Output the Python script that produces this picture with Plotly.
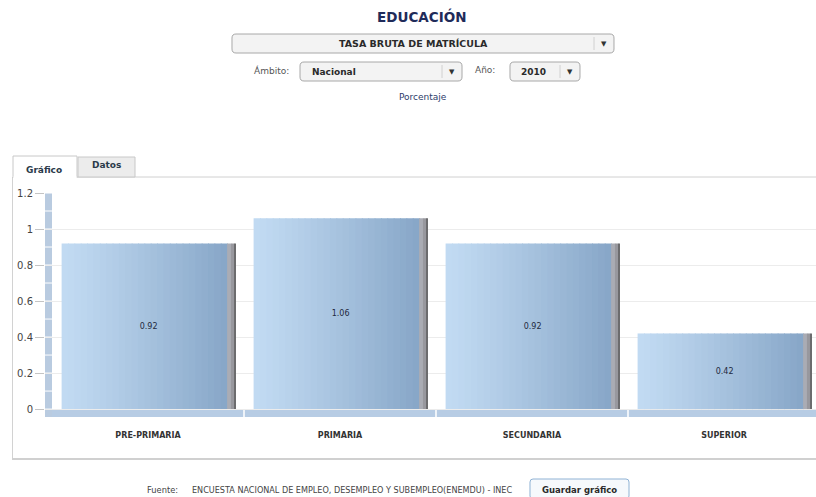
import plotly.graph_objects as go

# ---------------- data ----------------
categories = ["PRE-PRIMARIA", "PRIMARIA", "SECUNDARIA", "SUPERIOR"]
values = [0.92, 1.06, 0.92, 0.42]
y_ticks = [0, 0.2, 0.4, 0.6, 0.8, 1.0, 1.2]
y_tick_labels = ["0", "0.2", "0.4", "0.6", "0.8", "1", "1.2"]

# ---------------- geometry (pixels) ----------------
W, H = 816, 497
L, R, T, B = 45, 816, 193, 417
FONT = "DejaVu Sans"


def px(x):
    return (x - L) / (R - L)


def py(y):
    return (B - y) / (B - T)


def rrect(x0, y0, x1, y1, r):
    p = lambda x, y: f"{px(x):.5f},{py(y):.5f}"
    return (f"M {p(x0 + r, y0)} L {p(x1 - r, y0)} Q {p(x1, y0)} {p(x1, y0 + r)} "
            f"L {p(x1, y1 - r)} Q {p(x1, y1)} {p(x1 - r, y1)} L {p(x0 + r, y1)} "
            f"Q {p(x0, y1)} {p(x0, y1 - r)} L {p(x0, y0 + r)} Q {p(x0, y0)} {p(x0 + r, y0)} Z")


fig = go.Figure()

# ---------------- gradient bars (sliced) ----------------
bar_left = -0.45
blue_w = 0.862
N = 26
c0 = (193, 218, 242)
c1 = (136, 167, 200)
sw = blue_w / N
for i in range(N):
    t = i / (N - 1)
    t = t ** 1.15
    col = tuple(int(round(c0[k] + (c1[k] - c0[k]) * t)) for k in range(3))
    fig.add_trace(go.Bar(
        x=categories, y=values, width=sw * 1.15, offset=bar_left + i * sw,
        marker=dict(color=f"rgb{col}", line=dict(width=0)),
        hoverinfo="skip", showlegend=False))
# grey right edge
edge = [(bar_left + blue_w, 0.02, "rgb(170,172,180)"),
        (bar_left + blue_w + 0.02, 0.016, "rgb(152,152,158)"),
        (bar_left + blue_w + 0.036, 0.009, "rgb(108,108,110)")]
for off, w, col in edge:
    fig.add_trace(go.Bar(
        x=categories, y=values, width=w * 1.1, offset=off,
        marker=dict(color=col, line=dict(width=0)),
        hoverinfo="skip", showlegend=False))

# value labels
fig.add_trace(go.Bar(
    x=categories, y=values, width=0.906, offset=bar_left,
    marker=dict(color="rgba(0,0,0,0)", line=dict(width=0)),
    texttemplate="%{y:.2f}", textposition="inside", insidetextanchor="middle",
    textfont=dict(family=FONT, size=8, color="#1f2a40"),
    constraintext="none", hoverinfo="skip", showlegend=False))

shapes = []
# wall on left
shapes.append(dict(type="rect", xref="x", yref="y", x0=-0.5365, x1=-0.5, y0=-0.044, y1=1.2,
                   fillcolor="#b9cbe0", line=dict(width=0), layer="below"))
k = 0
while k <= 12:
    v = k / 10
    shapes.append(dict(type="line", xref="x", yref="y", x0=-0.5365, x1=-0.5, y0=v, y1=v,
                       line=dict(color="white", width=1), layer="below"))
    k += 1
# floor per category
for i in range(len(categories)):
    x0 = i - 0.5 + (0.004 if i > 0 else 0)
    x1 = i + 0.5 - 0.004
    shapes.append(dict(type="rect", xref="x", yref="y", x0=x0, x1=x1, y0=-0.044, y1=0,
                       fillcolor="#b7cce4", line=dict(width=0), layer="below"))

# panel frame and tabs
shapes.append(dict(type="line", xref="paper", yref="paper", x0=px(12.5), x1=px(12.5), y0=py(177), y1=py(459),
                   line=dict(color="#d2d2d2", width=1)))
shapes.append(dict(type="line", xref="paper", yref="paper", x0=px(12), x1=px(816), y0=py(459), y1=py(459),
                   line=dict(color="#d0d0d0", width=2)))
shapes.append(dict(type="line", xref="paper", yref="paper", x0=px(77), x1=px(816), y0=py(177), y1=py(177),
                   line=dict(color="#d0d0d0", width=1)))
shapes.append(dict(type="path", xref="paper", yref="paper",
                   path=f"M {px(78)},{py(177)} L {px(78)},{py(157)} L {px(135)},{py(157)} L {px(135)},{py(177)} Z",
                   fillcolor="#ececec", line=dict(color="#c8c8c8", width=1)))
shapes.append(dict(type="path", xref="paper", yref="paper",
                   path=f"M {px(13)},{py(178)} L {px(13)},{py(156)} L {px(77)},{py(156)} L {px(77)},{py(178)}",
                   fillcolor="white", line=dict(color="#c8c8c8", width=1)))
shapes.append(dict(type="line", xref="paper", yref="paper", x0=px(13.5), x1=px(76.5), y0=py(177.5), y1=py(177.5),
                   line=dict(color="white", width=2)))

# dropdown boxes
boxes = [(232, 34, 614, 53, 594), (300, 62, 462, 81, 442), (510, 62, 580, 81, 560)]
for x0, y0, x1, y1, xd in boxes:
    shapes.append(dict(type="path", xref="paper", yref="paper", path=rrect(x0, y0, x1, y1, 4),
                       fillcolor="#f3f3f3", line=dict(color="#a8a8a8", width=1)))
    shapes.append(dict(type="line", xref="paper", yref="paper", x0=px(xd), x1=px(xd), y0=py(y0 + 3), y1=py(y1 - 3),
                       line=dict(color="#d0d0d0", width=1)))
# save button
shapes.append(dict(type="path", xref="paper", yref="paper", path=rrect(530, 479, 629, 499, 3),
                   fillcolor="#f6f9fc", line=dict(color="#8fb2d4", width=1)))

annotations = []


def txt(x, y, s, size=9, color="#444444", anchor="center", bold=False):
    annotations.append(dict(xref="paper", yref="paper", x=px(x), y=py(y), text=s, showarrow=False,
                            xanchor=anchor, yanchor="middle",
                            font=dict(family=FONT, size=size, color=color,
                                      weight="bold" if bold else "normal")))


txt(421, 17, "EDUCACIÓN", size=13.5, color="#1f2b5a", bold=True)
txt(413, 43, "TASA BRUTA DE MATRÍCULA", size=9.5, color="#2a2a2a", bold=True)
txt(604, 44, "▼", size=7, color="#333333")
txt(291, 71, "Ámbito:", size=9, color="#555555", anchor="right")
txt(310, 72, "Nacional", size=9, color="#2a2a2a", anchor="left", bold=True)
txt(452, 72, "▼", size=7, color="#333333")
txt(497, 70, "Año:", size=9, color="#555555", anchor="right")
txt(533, 72, "2010", size=9, color="#2a2a2a", bold=True)
txt(570, 72, "▼", size=7, color="#333333")
txt(423, 97, "Porcentaje", size=9, color="#2d3c6a")
txt(44, 170, "Gráfico", size=9, color="#2a3a4a", bold=True)
txt(106, 165, "Datos", size=9, color="#2a3a4a", bold=True)
txt(180, 490, "Fuente:", size=8.3, color="#444444", anchor="right")
txt(190, 490, "ENCUESTA NACIONAL DE EMPLEO, DESEMPLEO Y SUBEMPLEO(ENEMDU) - INEC", size=8.1,
    color="#444444", anchor="left")
txt(579, 490, "Guardar gráfico", size=8.5, color="#2a2a2a", bold=True)

fig.update_layout(
    width=W, height=H,
    margin=dict(l=L, r=W - R, t=T, b=H - B, pad=0),
    paper_bgcolor="white", plot_bgcolor="white",
    barmode="overlay",
    showlegend=False,
    shapes=shapes,
    annotations=annotations,
    xaxis=dict(type="category", range=[-0.5365, 3.4792], showgrid=False, zeroline=False,
               showline=False, ticks="outside", ticklen=10, tickcolor="rgba(0,0,0,0)",
               tickfont=dict(family=FONT, size=8, color="#333333", weight="bold"),
               fixedrange=True),
    yaxis=dict(range=[-0.044, 1.2], tickvals=y_ticks, ticktext=y_tick_labels,
               showgrid=True, gridcolor="#ececec", gridwidth=1, zeroline=False, showline=False,
               ticks="outside", ticklen=9, tickcolor="#c4c4c4",
               tickfont=dict(family=FONT, size=10, color="#444444"), fixedrange=True),
)

fig.write_html("out.html", config={"displayModeBar": False},
               post_script="document.body.style.margin='0';document.body.style.overflow='hidden';")
